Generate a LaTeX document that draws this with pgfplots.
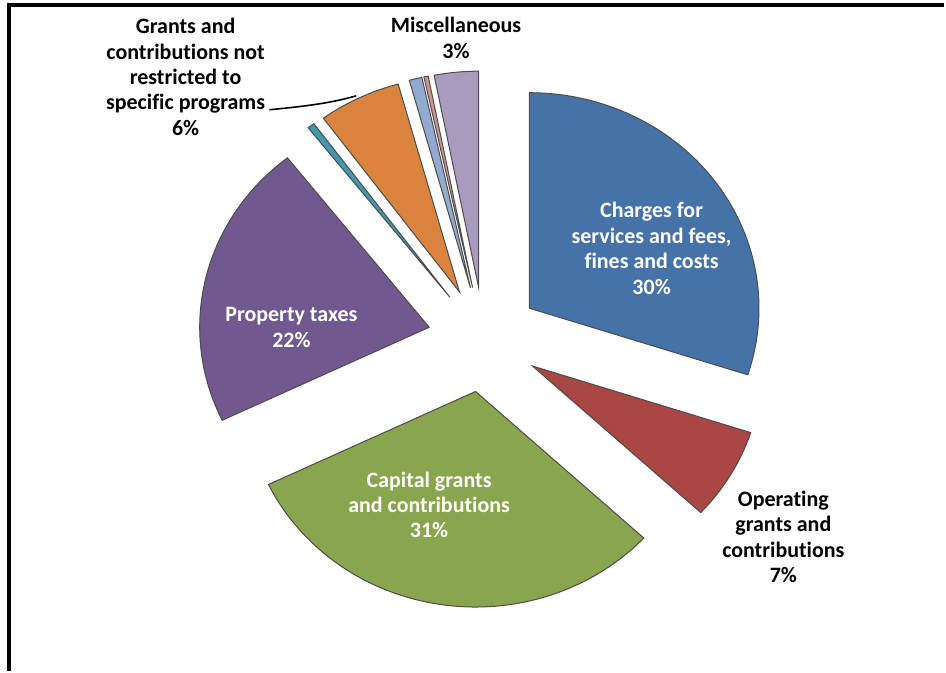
\documentclass[border=0pt]{standalone}
\usepackage{pgfplots}
\usepackage{pgfplotstable}
\pgfplotsset{compat=1.18}
\usepackage{fontspec}
\setmainfont{Carlito}[Ligatures=NoCommon]
\definecolor{pie0}{HTML}{4572A7}
\definecolor{pie1}{HTML}{AA4643}
\definecolor{pie2}{HTML}{89A54E}
\definecolor{pie3}{HTML}{71588F}
\definecolor{pie4}{HTML}{4198AF}
\definecolor{pie5}{HTML}{DB843D}
\definecolor{pie6}{HTML}{93A9CF}
\definecolor{pie7}{HTML}{D19392}
\definecolor{pie8}{HTML}{A99BBD}
\tikzset{lbl/.style={font=\fontsize{11}{12.75}\selectfont\bfseries, align=center, inner sep=0pt}}
\pgfplotstableread{
label pct
charges 30.0
operating 6.9
capital 31.0
property 21.5
teal 0.5
grants 5.8
lightblue 0.9
pink 0.3
misc 3.1
}\piedata
\begin{document}
\begin{tikzpicture}
\begin{axis}[
  width=473pt, height=336pt, scale only axis,
  xmin=0, xmax=946, ymin=0, ymax=672, y dir=reverse,
  hide axis, clip=false,
]
\path (axis cs:0,0) rectangle (axis cs:946,672);
\def\cum{0}
\pgfplotsforeachungrouped \i in {0,...,8}{%
  \pgfplotstablegetelem{\i}{pct}\of\piedata
  \pgfmathsetmacro\a{\cum}%
  \pgfmathsetmacro\b{\cum+3.6*\pgfplotsretval}%
  \pgfmathsetmacro\m{(\a+\b)/2}%
  \pgfmathsetmacro\ox{0.245*sin(\m)}%
  \pgfmathsetmacro\oy{0.245*cos(\m)}%
  \pgfmathsetmacro\px{485+230*\ox}%
  \pgfmathsetmacro\py{340-216*\oy}%
  \edef\cmd{\noexpand\addplot[draw=black!70, line width=0.5pt, fill=pie\i, domain=\a:\b, samples=80]
    ({485+230*(\ox+sin(x))},{340-216*(\oy+cos(x))}) -- (axis cs:\px,\py) -- cycle;}%
  \cmd
  \xdef\cum{\b}%
}
% frame
\draw[black, line width=2pt] (axis cs:9.5,672) -- (axis cs:9.5,5) -- (axis cs:946,5);
% labels
\node[lbl, white] at (axis cs:653,249) {Charges for\\services and fees,\\fines and costs\\30\%};
\node[lbl, black] at (axis cs:785,538) {Operating\\grants and\\contributions\\7\%};
\node[lbl, white] at (axis cs:430,506) {Capital grants\\and contributions\\31\%};
\node[lbl, white] at (axis cs:292,328) {Property taxes\\22\%};
\node[lbl, black] at (axis cs:186,77) {Grants and\\contributions not\\restricted to\\specific programs\\6\%};
\node[lbl, black] at (axis cs:457,38) {Miscellaneous\\3\%};
\draw[black, line width=0.8pt] (axis cs:270,110) .. controls (axis cs:300,107) and (axis cs:330,104) .. (axis cs:357,96);
\end{axis}
\end{tikzpicture}
\end{document}
